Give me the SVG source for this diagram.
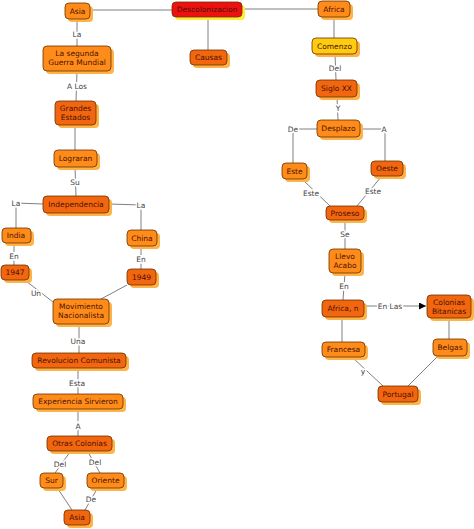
<svg xmlns="http://www.w3.org/2000/svg" width="474" height="529" viewBox="0 0 474 529">
<style>
.sh{fill:#ffb347}
.shy{fill:#ffee33}
.b{stroke:#6a3000;stroke-width:0.8}
.l{fill:#ff8c1a}
.d{fill:#f26610}
.r{fill:#ee1111}
.y{fill:#ffcc11}
text{font-family:"DejaVu Sans",Verdana,sans-serif;font-size:7.5px;text-anchor:middle;dominant-baseline:central}
.t{fill:#4a1200}
.lb{fill:#444;stroke:#fff;stroke-width:3;paint-order:stroke}
#links line,#links polyline{stroke:#808080;stroke-width:1;fill:none}
</style>
<defs>
<marker id="ah" viewBox="0 0 10 10" refX="10" refY="5" markerWidth="7" markerHeight="7" orient="auto" markerUnits="userSpaceOnUse"><path d="M0,0 L10,5 L0,10 z" fill="#000"/></marker>
</defs>
<rect width="474" height="529" fill="#fff"/>
<g id="links">
<line x1="90" y1="10" x2="172" y2="10"/>
<line x1="242" y1="9" x2="318" y2="9"/>
<line x1="208" y1="17" x2="208" y2="50"/>
<line x1="77" y1="19" x2="77" y2="46"/>
<line x1="77" y1="71" x2="76" y2="101"/>
<line x1="75" y1="125" x2="75" y2="150"/>
<line x1="75" y1="167" x2="76" y2="196"/>
<polyline points="43,204 16,203 16,228"/>
<line x1="14" y1="243" x2="14" y2="265"/>
<line x1="26" y1="281" x2="53" y2="302"/>
<polyline points="109,204 141,205 141,230"/>
<line x1="141" y1="246" x2="141" y2="269"/>
<line x1="127" y1="285" x2="101" y2="299"/>
<line x1="79" y1="324" x2="79" y2="353"/>
<line x1="78" y1="368" x2="78" y2="394"/>
<line x1="78" y1="409" x2="78" y2="436"/>
<line x1="70" y1="452" x2="55" y2="473"/>
<line x1="88" y1="452" x2="100" y2="473"/>
<line x1="58" y1="489" x2="72" y2="510"/>
<line x1="97" y1="489" x2="85" y2="510"/>
<line x1="334" y1="17" x2="334" y2="38"/>
<line x1="335" y1="54" x2="336" y2="80"/>
<line x1="337" y1="97" x2="338" y2="120"/>
<polyline points="317,129 293,129 293,163"/>
<polyline points="360,129 385,129 385,161"/>
<line x1="303" y1="180" x2="330" y2="206"/>
<line x1="381" y1="177" x2="357" y2="206"/>
<line x1="345" y1="220" x2="345" y2="249"/>
<line x1="345" y1="273" x2="343" y2="300"/>
<line x1="364" y1="306" x2="426" y2="306" marker-end="url(#ah)"/>
<line x1="449" y1="318" x2="449" y2="339"/>
<line x1="342" y1="317" x2="342" y2="342"/>
<line x1="352" y1="357" x2="383" y2="386"/>
<line x1="438" y1="356" x2="408" y2="386"/>
<text class="lb" x="77" y="34">La</text>
<text class="lb" x="77" y="86">A Los</text>
<text class="lb" x="75" y="182">Su</text>
<text class="lb" x="16" y="203">La</text>
<text class="lb" x="14" y="256">En</text>
<text class="lb" x="36" y="293">Un</text>
<text class="lb" x="141" y="205">La</text>
<text class="lb" x="141" y="259">En</text>
<text class="lb" x="78" y="341">Una</text>
<text class="lb" x="77" y="383">Esta</text>
<text class="lb" x="78" y="426">A</text>
<text class="lb" x="60" y="464">Del</text>
<text class="lb" x="95" y="462">Del</text>
<text class="lb" x="91" y="499">De</text>
<text class="lb" x="335" y="68">Del</text>
<text class="lb" x="338" y="108">Y</text>
<text class="lb" x="293" y="129">De</text>
<text class="lb" x="384" y="129">A</text>
<text class="lb" x="311" y="193">Este</text>
<text class="lb" x="373" y="191">Este</text>
<text class="lb" x="345" y="234">Se</text>
<text class="lb" x="344" y="286">En</text>
<text class="lb" x="390" y="306">En Las</text>
<text class="lb" x="363" y="371">y</text>
</g>
<g id="asia1"><rect class="sh" x="68" y="6" width="25" height="16" rx="4"/><rect class="l b" x="65" y="3" width="25" height="16" rx="4"/><text class="t" x="77.5" y="11">Asia</text></g>
<g id="descolonizacion"><rect class="shy" x="175" y="5" width="70" height="15" rx="4"/><rect class="r b" x="172" y="2" width="70" height="15" rx="4"/><text class="t" x="207" y="9.5">Descolonizacion</text></g>
<g id="causas"><rect class="sh" x="193" y="53" width="37" height="15" rx="4"/><rect class="d b" x="190" y="50" width="37" height="15" rx="4"/><text class="t" x="208.5" y="57.5">Causas</text></g>
<g id="guerra"><rect class="sh" x="46" y="49" width="68" height="25" rx="4"/><rect class="l b" x="43" y="46" width="68" height="25" rx="4"/><text class="t" x="77" y="53.5">La segunda</text><text class="t" x="77" y="62.5">Guerra Mundial</text></g>
<g id="grandes"><rect class="sh" x="58" y="104" width="41" height="24" rx="4"/><rect class="d b" x="55" y="101" width="41" height="24" rx="4"/><text class="t" x="75.5" y="108.5">Grandes</text><text class="t" x="75.5" y="117.5">Estados</text></g>
<g id="lograran"><rect class="sh" x="57" y="153" width="43" height="17" rx="4"/><rect class="l b" x="54" y="150" width="43" height="17" rx="4"/><text class="t" x="75.5" y="158.5">Lograran</text></g>
<g id="independencia"><rect class="sh" x="46" y="199" width="66" height="17" rx="4"/><rect class="d b" x="43" y="196" width="66" height="17" rx="4"/><text class="t" x="76" y="204">Independencia</text></g>
<g id="india"><rect class="sh" x="5" y="231" width="29" height="15" rx="4"/><rect class="l b" x="2" y="228" width="29" height="15" rx="4"/><text class="t" x="16" y="235.5">India</text></g>
<g id="y1947"><rect class="sh" x="4" y="268" width="28" height="15" rx="4"/><rect class="d b" x="1" y="265" width="28" height="15" rx="4"/><text class="t" x="15" y="272.5">1947</text></g>
<g id="china"><rect class="sh" x="130" y="233" width="30" height="16" rx="4"/><rect class="l b" x="127" y="230" width="30" height="16" rx="4"/><text class="t" x="142" y="238">China</text></g>
<g id="y1949"><rect class="sh" x="130" y="272" width="29" height="16" rx="4"/><rect class="d b" x="127" y="269" width="29" height="16" rx="4"/><text class="t" x="141.5" y="277">1949</text></g>
<g id="movimiento"><rect class="sh" x="56" y="302" width="56" height="25" rx="4"/><rect class="l b" x="53" y="299" width="56" height="25" rx="4"/><text class="t" x="81" y="306.5">Movimiento</text><text class="t" x="81" y="315.5">Nacionalista</text></g>
<g id="revolucion"><rect class="sh" x="35" y="356" width="94" height="15" rx="4"/><rect class="d b" x="32" y="353" width="94" height="15" rx="4"/><text class="t" x="79" y="360.5">Revolucion Comunista</text></g>
<g id="experiencia"><rect class="sh" x="36" y="397" width="90" height="15" rx="4"/><rect class="l b" x="33" y="394" width="90" height="15" rx="4"/><text class="t" x="78" y="401.5">Experiencia Sirvieron</text></g>
<g id="otras"><rect class="sh" x="50" y="439" width="65" height="15" rx="4"/><rect class="d b" x="47" y="436" width="65" height="15" rx="4"/><text class="t" x="79.5" y="443.5">Otras Colonias</text></g>
<g id="sur"><rect class="sh" x="43" y="476" width="23" height="15" rx="4"/><rect class="l b" x="40" y="473" width="23" height="15" rx="4"/><text class="t" x="51.5" y="480.5">Sur</text></g>
<g id="oriente"><rect class="sh" x="90" y="476" width="37" height="15" rx="4"/><rect class="l b" x="87" y="473" width="37" height="15" rx="4"/><text class="t" x="105.5" y="480.5">Oriente</text></g>
<g id="asia2"><rect class="sh" x="67" y="513" width="26" height="15" rx="4"/><rect class="d b" x="64" y="510" width="26" height="15" rx="4"/><text class="t" x="77" y="517.5">Asia</text></g>
<g id="africa"><rect class="sh" x="321" y="4" width="32" height="16" rx="4"/><rect class="l b" x="318" y="1" width="32" height="16" rx="4"/><text class="t" x="334" y="9">Africa</text></g>
<g id="comenzo"><rect class="sh" x="315" y="41" width="45" height="16" rx="4"/><rect class="y b" x="312" y="38" width="45" height="16" rx="4"/><text class="t" x="334.5" y="46">Comenzo</text></g>
<g id="siglo"><rect class="sh" x="319" y="83" width="41" height="17" rx="4"/><rect class="d b" x="316" y="80" width="41" height="17" rx="4"/><text class="t" x="336.5" y="88.5">Siglo XX</text></g>
<g id="desplazo"><rect class="sh" x="320" y="123" width="43" height="17" rx="4"/><rect class="l b" x="317" y="120" width="43" height="17" rx="4"/><text class="t" x="338.5" y="128.5">Desplazo</text></g>
<g id="este"><rect class="sh" x="285" y="166" width="25" height="16" rx="4"/><rect class="l b" x="282" y="163" width="25" height="16" rx="4"/><text class="t" x="294.5" y="171">Este</text></g>
<g id="oeste"><rect class="sh" x="374" y="164" width="32" height="15" rx="4"/><rect class="d b" x="371" y="161" width="32" height="15" rx="4"/><text class="t" x="387" y="168.5">Oeste</text></g>
<g id="proseso"><rect class="sh" x="329" y="209" width="38" height="14" rx="4"/><rect class="d b" x="326" y="206" width="38" height="14" rx="4"/><text class="t" x="345" y="213">Proseso</text></g>
<g id="llevo"><rect class="sh" x="332" y="252" width="32" height="24" rx="4"/><rect class="l b" x="329" y="249" width="32" height="24" rx="4"/><text class="t" x="345" y="256.5">Llevo</text><text class="t" x="345" y="265.5">Acabo</text></g>
<g id="africaN"><rect class="sh" x="325" y="303" width="42" height="17" rx="4"/><rect class="d b" x="322" y="300" width="42" height="17" rx="4"/><text class="t" x="343" y="308.5">Africa, n</text></g>
<g id="colonias"><rect class="sh" x="430" y="298" width="44" height="23" rx="4"/><rect class="d b" x="427" y="295" width="44" height="23" rx="4"/><text class="t" x="449" y="302">Colonias</text><text class="t" x="449" y="311">Bitanicas</text></g>
<g id="belgas"><rect class="sh" x="436" y="342" width="34" height="17" rx="4"/><rect class="l b" x="433" y="339" width="34" height="17" rx="4"/><text class="t" x="450" y="347.5">Belgas</text></g>
<g id="francesa"><rect class="sh" x="325" y="345" width="43" height="15" rx="4"/><rect class="l b" x="322" y="342" width="43" height="15" rx="4"/><text class="t" x="343.5" y="349.5">Francesa</text></g>
<g id="portugal"><rect class="sh" x="381" y="389" width="40" height="16" rx="4"/><rect class="d b" x="378" y="386" width="40" height="16" rx="4"/><text class="t" x="398" y="394">Portugal</text></g>
</svg>
